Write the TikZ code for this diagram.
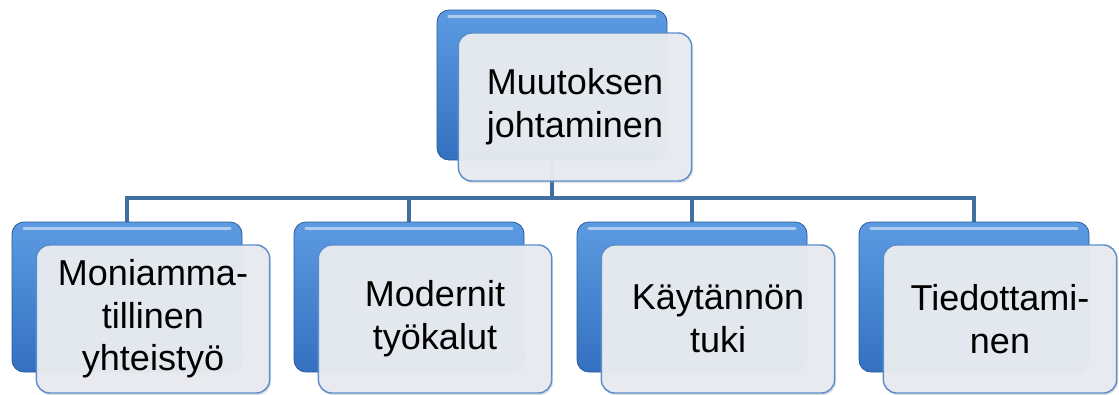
\documentclass[tikz,border=0pt]{standalone}
\usepackage{fontspec}
\setmainfont{Liberation Sans}
\usetikzlibrary{backgrounds,shadows}

\definecolor{linkblue}{HTML}{41709E}
\definecolor{backtop}{HTML}{5C9BE2}
\definecolor{backbot}{HTML}{3470C0}
\definecolor{frontfill}{HTML}{E8EBF0}
\definecolor{frontline}{HTML}{5B8ECB}

\tikzset{
	backbox/.style={rectangle, rounded corners=9pt, minimum width=172.5pt, minimum height=112.5pt,
		top color=backtop, bottom color=backbot, draw=backbot!80!black, line width=0.6pt,
		path picture={\draw[white, opacity=0.5, line width=2.5pt, line cap=round]
			([xshift=9pt,yshift=-5pt]path picture bounding box.north west) -- ([xshift=-9pt,yshift=-5pt]path picture bounding box.north east);}},
	frontbox/.style={rectangle, rounded corners=10pt, minimum width=175pt, minimum height=111pt,
		fill=frontfill, fill opacity=0.97, text opacity=1, draw=frontline, line width=1.1pt,
		align=center, font=\fontsize{27}{32}\selectfont,
		drop shadow={opacity=0.25, shadow xshift=1pt, shadow yshift=-1.5pt}},
	link/.style={draw=linkblue, line width=3.6pt}
}

\begin{document}
\begin{tikzpicture}[x=0.75pt,y=-0.75pt]
			\useasboundingbox (0,0) rectangle (1119,394);
			
			\node[backbox] (topback) at (552,85) {};
			\node[frontbox] (top) at (575,107) {Muutoksen\\johtaminen};
			
			\node[backbox] (b1back) at (127,297) {};
			\node[frontbox] (b1) at (153,319) {Moniamma-\\tillinen\\yhteistyö};
			
			\node[backbox] (b2back) at (409,297) {};
			\node[frontbox] (b2) at (435,319) {Modernit\\työkalut};
			
			\node[backbox] (b3back) at (692,297) {};
			\node[frontbox] (b3) at (718,319) {Käytännön\\tuki};
			
			\node[backbox] (b4back) at (974,297) {};
			\node[frontbox] (b4) at (1000,319) {Tiedottami-\\nen};
			
			% connectors under the boxes
			\begin{scope}[on background layer]
				\coordinate (bus) at (552,198);
				\draw[link] (topback.south) -- (bus);
				\draw[link] (b1back.north) |- (bus) -| (b4back.north);
				\draw[link] (b2back.north) -- (b2back.north |- bus);
				\draw[link] (b3back.north) -- (b3back.north |- bus);
			\end{scope}
\end{tikzpicture}
\end{document}
